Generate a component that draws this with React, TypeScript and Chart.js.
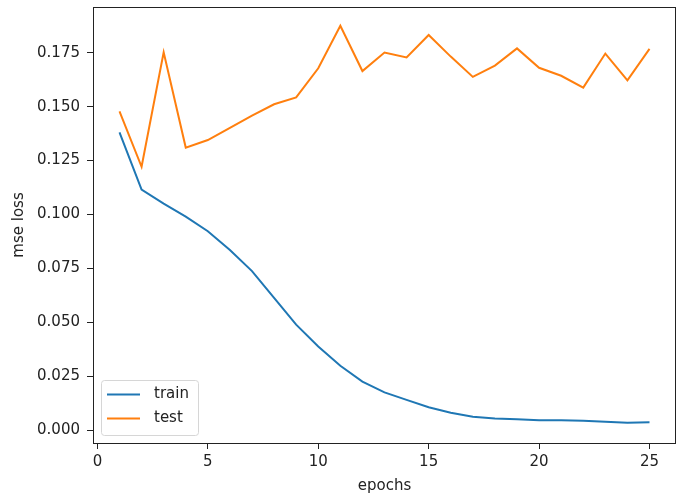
import React, { useEffect, useRef } from "react";
import { Chart, registerables } from "chart.js";

Chart.register(...registerables);

const EPOCHS = [1, 2, 3, 4, 5, 6, 7, 8, 9, 10, 11, 12, 13, 14, 15, 16, 17, 18, 19, 20, 21, 22, 23, 24, 25];
const TRAIN = [0.1381, 0.1115, 0.1050, 0.0990, 0.0922, 0.0835, 0.0737, 0.0613, 0.0489, 0.0388, 0.0298, 0.0225, 0.0175, 0.0140, 0.0106, 0.0080, 0.0062, 0.0054, 0.0050, 0.0045, 0.0046, 0.0043, 0.0038, 0.0034, 0.0036];
const TEST = [0.1478, 0.1221, 0.1752, 0.1310, 0.1345, 0.1402, 0.1458, 0.1511, 0.1543, 0.1678, 0.1875, 0.1665, 0.1751, 0.1728, 0.1832, 0.1732, 0.1638, 0.1690, 0.1770, 0.1680, 0.1643, 0.1588, 0.1746, 0.1622, 0.1768];
const X_TICKS = [0, 5, 10, 15, 20, 25];
const Y_TICKS = [0, 0.025, 0.05, 0.075, 0.1, 0.125, 0.15, 0.175];
const SERIES_NAMES = ["train", "test"];
const X_LABEL = "epochs";
const Y_LABEL = "mse loss";

const FONT = "'DejaVu Sans', sans-serif";
const INK = "#222";

const framePlugin = {
  id: "frame",
  afterDatasetsDraw(chart: any) {
    const { ctx, chartArea } = chart;
    ctx.save();
    ctx.strokeStyle = INK;
    ctx.lineWidth = 1;
    ctx.strokeRect(
      Math.round(chartArea.left) + 0.5,
      Math.round(chartArea.top) + 0.5,
      Math.round(chartArea.right - chartArea.left) - 1,
      Math.round(chartArea.bottom - chartArea.top)
    );
    ctx.restore();
  },
  afterDraw(chart: any) {
    const { ctx, chartArea } = chart;
    const ds = chart.data.datasets;
    const x0 = chartArea.left + 8;
    const y0 = chartArea.bottom - 63;
    const w = 97;
    const h = 55;
    ctx.save();
    ctx.beginPath();
    if (ctx.roundRect) ctx.roundRect(x0 + 0.5, y0 + 0.5, w, h, 3);
    else ctx.rect(x0 + 0.5, y0 + 0.5, w, h);
    ctx.fillStyle = "rgba(255,255,255,0.8)";
    ctx.fill();
    ctx.strokeStyle = "#d6d6d6";
    ctx.lineWidth = 1;
    ctx.stroke();
    ctx.font = `15px ${FONT}`;
    ctx.textBaseline = "middle";
    ctx.textAlign = "left";
    ds.forEach((d: any, i: number) => {
      const yy = y0 + 14.5 + i * 24;
      ctx.beginPath();
      ctx.strokeStyle = d.borderColor;
      ctx.lineWidth = 2;
      ctx.moveTo(x0 + 6, yy);
      ctx.lineTo(x0 + 39, yy);
      ctx.stroke();
      ctx.fillStyle = INK;
      ctx.fillText(d.label, x0 + 53, yy);
    });
    ctx.restore();
  },
};

export default function App() {
  const ref = useRef<HTMLCanvasElement>(null);
  useEffect(() => {
    if (!ref.current) return;
    const chart = new Chart(ref.current, {
      type: "line",
      data: {
        datasets: [
          {
            label: SERIES_NAMES[0],
            data: EPOCHS.map((e, i) => ({ x: e, y: TRAIN[i] })),
            borderColor: "#1f77b4",
            backgroundColor: "#1f77b4",
            borderWidth: 2,
            pointRadius: 0,
            tension: 0,
          },
          {
            label: SERIES_NAMES[1],
            data: EPOCHS.map((e, i) => ({ x: e, y: TEST[i] })),
            borderColor: "#ff7f0e",
            backgroundColor: "#ff7f0e",
            borderWidth: 2,
            pointRadius: 0,
            tension: 0,
          },
        ],
      },
      options: {
        animation: false,
        responsive: false,
        devicePixelRatio: 1,
        layout: { padding: { left: 0, top: 7, right: 1, bottom: 0 } },
        plugins: { legend: { display: false }, tooltip: { enabled: false } },
        scales: {
          x: {
            type: "linear",
            min: -0.2,
            max: 26.2,
            afterBuildTicks: (axis: any) => {
              axis.ticks = X_TICKS.map((v) => ({ value: v }));
            },
            afterFit: (scale: any) => {
              scale.height = 52;
              scale.paddingLeft = 0;
              scale.paddingRight = 0;
              scale.paddingTop = 0;
              scale.paddingBottom = 0;
            },
            grid: { display: true, drawOnChartArea: false, drawTicks: true, tickLength: 6, color: INK },
            border: { display: false },
            ticks: {
              color: INK,
              font: { family: FONT, size: 15 },
              padding: 4,
              maxRotation: 0,
              callback: (v: any) => String(v),
            },
            title: {
              display: true,
              text: X_LABEL,
              color: INK,
              font: { family: FONT, size: 15 },
              padding: { top: 2.5, bottom: 0 },
            },
          },
          y: {
            type: "linear",
            min: -0.006,
            max: 0.1962,
            afterBuildTicks: (axis: any) => {
              axis.ticks = Y_TICKS.map((v) => ({ value: v }));
            },
            afterFit: (scale: any) => {
              scale.width = 93;
              scale.paddingLeft = 0;
              scale.paddingRight = 0;
              scale.paddingTop = 0;
              scale.paddingBottom = 0;
            },
            grid: { display: true, drawOnChartArea: false, drawTicks: true, tickLength: 6, color: INK },
            border: { display: false },
            ticks: {
              color: INK,
              font: { family: FONT, size: 15 },
              padding: 7,
              callback: (v: any) => Number(v).toFixed(3),
            },
            title: {
              display: true,
              text: Y_LABEL,
              color: INK,
              font: { family: FONT, size: 15 },
              padding: { top: 10, bottom: 0 },
            },
          },
        },
      },
      plugins: [framePlugin],
    });
    return () => chart.destroy();
  }, []);
  return (
    <div style={{ position: "fixed", left: 0, top: 0, width: 677, height: 495, background: "#fff" }}>
      <canvas ref={ref} width={677} height={495} style={{ display: "block" }} />
    </div>
  );
}
